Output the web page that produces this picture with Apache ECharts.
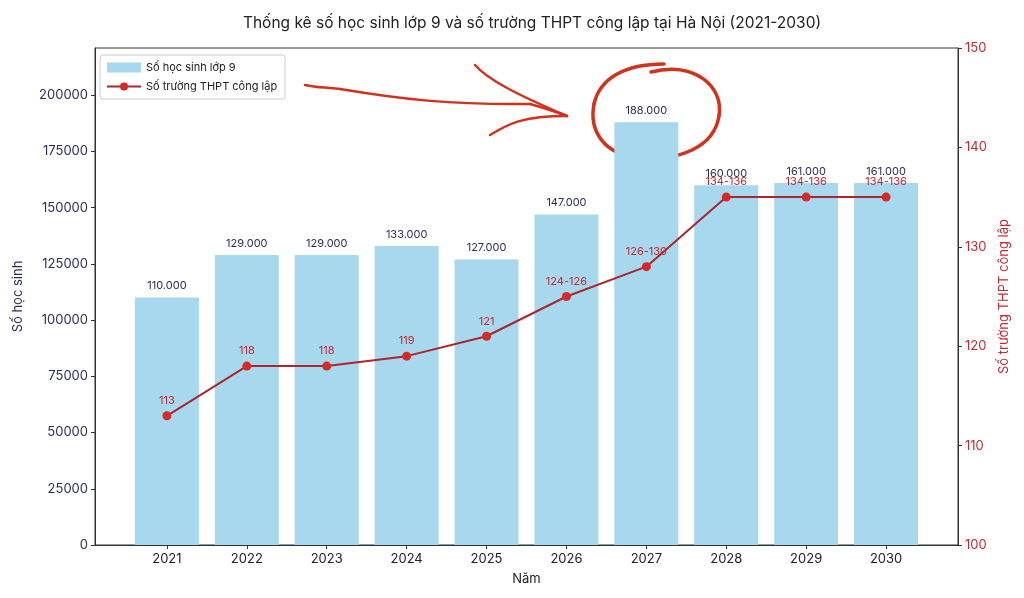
<!DOCTYPE html>
<html>
<head>
<meta charset="utf-8">
<script src="https://cdn.jsdelivr.net/npm/echarts@6/dist/echarts.min.js"></script>
<style>
  html, body { margin: 0; padding: 0; background: #fff; }
  #main { width: 1024px; height: 598px; }
</style>
</head>
<body>
<div id="main"></div>
<script>
// du lieu
const years = ['2021', '2022', '2023', '2024', '2025', '2026', '2027', '2028', '2029', '2030']
const students = [110000, 129000, 129000, 133000, 127000, 147000, 188000, 160000, 161000, 161000]
const schools = [113, 118, 118, 119, 121, 125, 128, 135, 135, 135]
const schoolLabels = ['113', '118', '118', '119', '121', '124-126', '126-130', '134-136', '134-136', '134-136']
const leftTicks = [0, 25000, 50000, 75000, 100000, 125000, 150000, 175000, 200000]

const font = 'Inter'
const navy = '#2b2d5c'
const red = '#c22a34'
const pen = '#d0321e'

function dotFormat (v) {
  return String(v).replace(/\B(?=(\d{3})+(?!\d))/g, '.')
}

// net ve tay: doan cong bezier
function stroke (x1, y1, c1x, c1y, c2x, c2y, x2, y2, w) {
  return {
    type: 'bezierCurve',
    shape: { x1: x1, y1: y1, cpx1: c1x, cpy1: c1y, cpx2: c2x, cpy2: c2y, x2: x2, y2: y2 },
    style: { fill: null, stroke: pen, lineWidth: w || 2.5, lineCap: 'round' }
  }
}

const chart = echarts.init(document.getElementById('main'))
chart.setOption({
  backgroundColor: '#fff',
  textStyle: { fontFamily: font },
  title: {
    text: 'Thống kê số học sinh lớp 9 và số trường THPT công lập tại Hà Nội (2021-2030)',
    left: 527,
    textAlign: 'center',
    top: 10,
    textStyle: { fontFamily: font, fontSize: 15.5, fontWeight: 'normal', color: '#222' }
  },
  legend: {
    orient: 'vertical',
    left: 100,
    top: 55,
    padding: [7, 8, 7, 6],
    itemGap: 8,
    itemWidth: 34,
    itemHeight: 10,
    borderColor: '#ccc',
    borderWidth: 1,
    borderRadius: 3,
    textStyle: { fontFamily: font, fontSize: 11, color: '#222' },
    data: [
      { name: 'Số học sinh lớp 9', icon: 'rect' },
      { name: 'Số trường THPT công lập' }
    ]
  },
  grid: {
    left: 95,
    right: 66,
    top: 48,
    bottom: 53,
    show: true,
    borderColor: '#333',
    borderWidth: 1
  },
  xAxis: {
    type: 'value',
    min: -0.9,
    max: 9.9,
    name: 'Năm',
    nameLocation: 'middle',
    nameGap: 28,
    nameTextStyle: { fontFamily: font, fontSize: 13, color: '#222' },
    splitLine: { show: false },
    axisLine: { onZero: false, lineStyle: { color: '#333' } },
    axisTick: { customValues: [0, 1, 2, 3, 4, 5, 6, 7, 8, 9], length: 4, lineStyle: { color: '#333' } },
    axisLabel: {
      customValues: [0, 1, 2, 3, 4, 5, 6, 7, 8, 9],
      formatter: function (v) { return years[v] },
      fontSize: 13,
      color: '#222',
      margin: 8
    }
  },
  yAxis: [
    {
      type: 'value',
      min: 0,
      max: 221000,
      name: 'Số học sinh',
      nameLocation: 'middle',
      nameGap: 70,
      nameTextStyle: { fontFamily: font, fontSize: 13, color: navy },
      splitLine: { show: false },
      axisLine: { show: true, onZero: false, lineStyle: { color: '#333' } },
      axisTick: { show: true, customValues: leftTicks, length: 4, lineStyle: { color: '#333' } },
      axisLabel: {
        customValues: leftTicks,
        formatter: function (v) { return String(v) },
        fontSize: 13,
        color: navy,
        margin: 7
      }
    },
    {
      type: 'value',
      min: 100,
      max: 150,
      interval: 10,
      position: 'right',
      name: 'Số trường THPT công lập',
      nameLocation: 'middle',
      nameGap: 36,
      nameRotate: 90,
      nameTextStyle: { fontFamily: font, fontSize: 13, color: red },
      splitLine: { show: false },
      axisLine: { show: true, onZero: false, lineStyle: { color: '#333' } },
      axisTick: { show: true, length: 4, lineStyle: { color: '#333' } },
      axisLabel: { fontSize: 13, color: red, margin: 7 }
    }
  ],
  series: [
    {
      name: 'Số học sinh lớp 9',
      type: 'bar',
      yAxisIndex: 0,
      barWidth: 64,
      itemStyle: { color: '#a8d8ee' },
      label: {
        show: true,
        position: 'top',
        distance: 6,
        fontSize: 11,
        color: navy,
        formatter: function (p) { return dotFormat(p.value[1]) }
      },
      data: students.map(function (v, i) { return [i, v] })
    },
    {
      name: 'Số trường THPT công lập',
      type: 'line',
      yAxisIndex: 1,
      symbol: 'circle',
      symbolSize: 9,
      lineStyle: { color: '#a8262c', width: 2 },
      itemStyle: { color: '#d42a2a' },
      label: {
        show: true,
        position: 'top',
        distance: 5,
        fontSize: 11,
        color: red,
        formatter: function (p) { return schoolLabels[p.dataIndex] }
      },
      data: schools.map(function (v, i) { return [i, v] })
    }
  ],
  graphic: [
    // mui ten
    stroke(305, 85, 318, 88, 325, 87, 340, 89),
    stroke(340, 89, 400, 99, 450, 105, 530, 104),
    stroke(530, 104, 545, 108, 556, 112, 567, 116),
    stroke(475, 65, 488, 80, 518, 95, 567, 116),
    stroke(490, 135, 508, 124, 522, 116, 567, 116),
    // vong tron quanh 188.000
    stroke(651, 72, 694, 61, 724, 86, 719, 116, 3.5),
    stroke(719, 116, 714, 147, 680, 161, 640, 158, 3.5),
    stroke(640, 158, 603, 155, 589, 130, 594, 104, 3.5),
    stroke(594, 104, 600, 78, 625, 64, 664, 64, 3.5)
  ]
})
</script>
</body>
</html>
